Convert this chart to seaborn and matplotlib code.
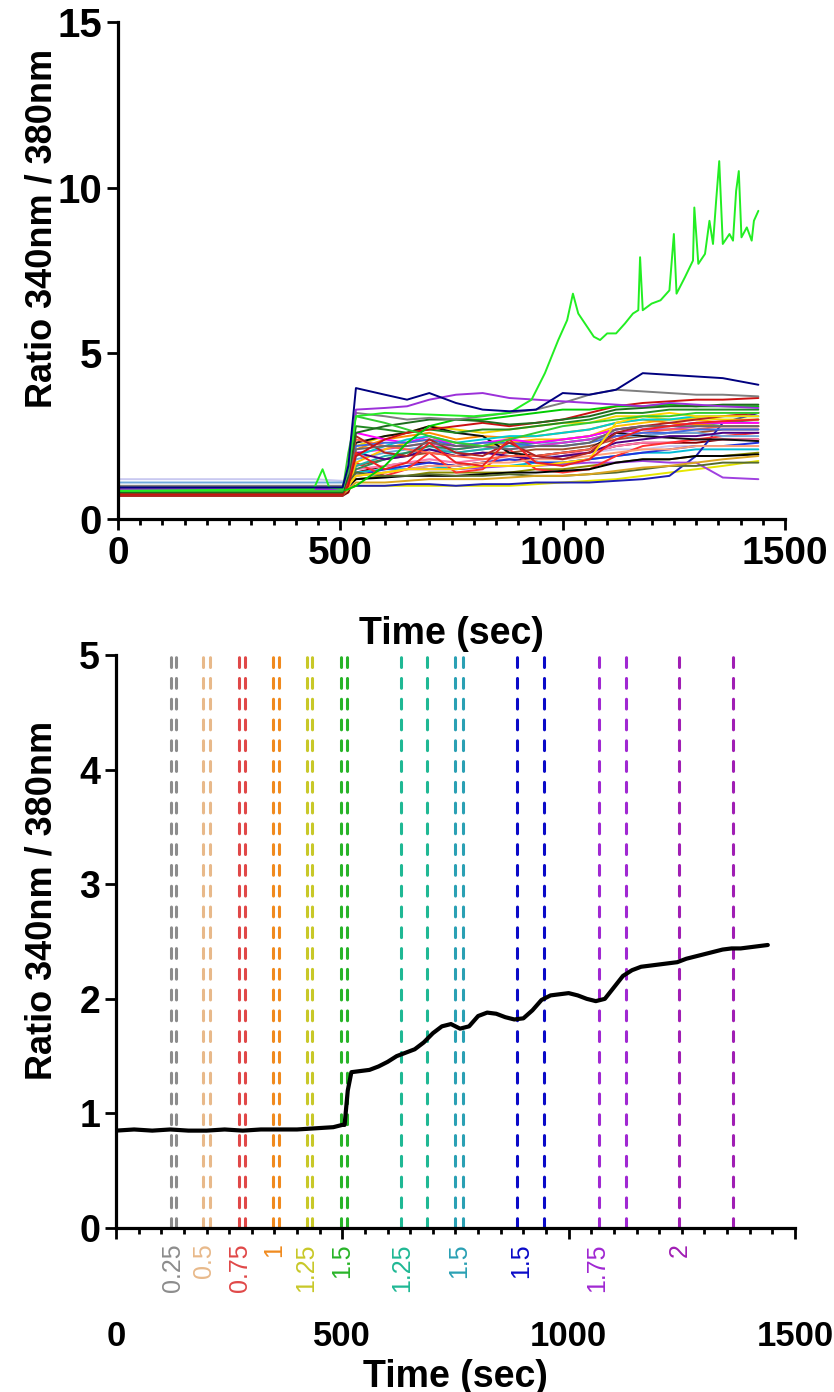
import numpy as np
import pandas as pd
import matplotlib
matplotlib.use('Agg')
import matplotlib.pyplot as plt
import seaborn as sns
from matplotlib.ticker import MultipleLocator
from matplotlib import transforms


# -- -- -- --   top panel: all cells   -- -- -- --

grid_time = [0, 440, 505, 518, 535, 600, 650, 700, 760, 820, 880, 940, 1000, 1060, 1120, 1180, 1240, 1300, 1360, 1440]

cell_colors = {
    'c01': '#8b0000', 'c02': '#c8c8f0', 'c03': '#a0522d', 'c04': '#ff77aa', 'c05': '#00bcd4',
    'c06': '#8b8b00', 'c07': '#e6e600', 'c08': '#1f1fb4', 'c09': '#a040e0', 'c10': '#2233dd',
    'c11': '#ff3030', 'c12': '#000000', 'c13': '#6fa8dc', 'c14': '#20b2aa', 'c15': '#d633d6',
    'c16': '#2e8b57', 'c17': '#ffc000', 'c18': '#ff8c00', 'c19': '#f2d600', 'c20': '#111111',
    'c29': '#ff00ff', 'c30': '#4b0082', 'c31': '#ff6347', 'c32': '#00ced1', 'c33': '#556b2f',
    'c34': '#ffa07a', 'c35': '#daa520', 'c36': '#4169e1', 'c37': '#b22222', 'c38': '#228b22',
    'c39': '#696969', 'c40': '#ffd700',
    'c21': '#ee2222', 'c22': '#cc1111', 'c23': '#00cc00', 'c24': '#1e6b1e', 'c25': '#33cc33',
    'c26': '#7f7f7f', 'c27': '#9b30d9', 'c28': '#00007f',
}

cell_values = {
    'c01': [0.70, 0.70, 0.70, 0.80, 1.40, 1.60, 1.70, 1.70, 1.60, 1.70, 1.80, 1.80, 1.90, 2.00, 2.20, 2.30, 2.30, 2.30, 2.40, 2.40],
    'c02': [1.20, 1.20, 1.15, 1.20, 1.50, 1.60, 1.70, 1.80, 1.70, 1.80, 1.80, 1.90, 1.90, 2.00, 2.10, 2.10, 2.20, 2.20, 2.20, 2.20],
    'c03': [0.70, 0.70, 0.70, 0.90, 1.60, 1.80, 1.90, 2.00, 1.90, 2.00, 2.00, 2.10, 2.10, 2.20, 2.40, 2.50, 2.60, 2.60, 2.70, 2.70],
    'c04': [0.85, 0.85, 0.85, 1.00, 1.50, 1.60, 1.70, 1.80, 1.70, 1.80, 1.90, 1.90, 2.00, 2.00, 2.20, 2.30, 2.30, 2.40, 2.40, 2.40],
    'c05': [0.90, 0.90, 0.90, 1.00, 1.40, 1.50, 1.50, 1.60, 1.50, 1.60, 1.60, 1.70, 1.70, 1.80, 1.90, 2.00, 2.00, 2.10, 2.10, 2.10],
    'c06': [0.80, 0.80, 0.80, 0.95, 1.20, 1.30, 1.30, 1.40, 1.40, 1.40, 1.40, 1.50, 1.50, 1.60, 1.70, 1.80, 1.80, 1.90, 1.90, 2.00],
    'c07': [0.80, 0.80, 0.80, 0.90, 1.00, 1.00, 1.00, 1.00, 1.00, 1.00, 1.00, 1.05, 1.10, 1.15, 1.20, 1.30, 1.40, 1.50, 1.60, 1.75],
    'c08': [0.90, 0.90, 0.90, 0.95, 1.00, 1.00, 1.05, 1.05, 1.00, 1.05, 1.05, 1.10, 1.10, 1.10, 1.15, 1.20, 1.30, 1.90, 2.90, 3.20],
    'c09': [0.95, 0.95, 0.95, 1.00, 1.30, 1.40, 1.50, 1.50, 1.50, 1.55, 1.60, 1.60, 1.65, 1.70, 1.70, 1.75, 1.70, 1.70, 1.25, 1.20],
    'c10': [0.80, 0.80, 0.80, 0.90, 1.30, 1.50, 1.60, 1.70, 1.60, 1.70, 1.80, 1.70, 1.70, 1.80, 1.90, 2.00, 2.10, 2.20, 2.20, 2.30],
    'c11': [0.80, 0.80, 0.80, 1.00, 1.70, 1.30, 1.50, 2.00, 1.40, 1.50, 2.10, 1.50, 1.40, 1.50, 1.90, 2.20, 2.30, 2.40, 2.50, 2.60],
    'c12': [0.90, 0.90, 0.90, 1.00, 1.20, 1.25, 1.30, 1.30, 1.30, 1.35, 1.40, 1.40, 1.45, 1.50, 1.70, 1.80, 1.80, 1.90, 1.90, 1.95],
    'c13': [1.10, 1.10, 1.10, 1.20, 1.80, 2.00, 2.10, 2.20, 2.00, 2.10, 2.20, 2.30, 2.30, 2.40, 2.50, 2.50, 2.60, 2.60, 2.50, 2.50],
    'c14': [0.85, 0.85, 0.85, 1.00, 1.60, 1.90, 2.00, 2.10, 2.00, 2.10, 2.20, 2.20, 2.30, 2.40, 2.60, 2.70, 2.70, 2.80, 2.90, 2.90],
    'c15': [0.90, 0.90, 0.90, 1.20, 2.00, 2.10, 2.20, 2.30, 2.10, 2.20, 2.10, 2.20, 2.30, 2.40, 2.60, 2.70, 2.70, 2.80, 2.80, 2.80],
    'c16': [0.80, 0.80, 0.80, 1.00, 1.50, 1.80, 2.00, 2.20, 2.10, 2.20, 2.30, 2.30, 2.40, 2.50, 2.70, 2.80, 2.80, 2.90, 2.90, 3.00],
    'c17': [0.80, 0.80, 0.80, 0.90, 1.70, 2.10, 2.30, 2.40, 2.30, 2.20, 2.30, 2.40, 2.40, 2.50, 2.80, 2.90, 3.00, 3.00, 2.90, 2.90],
    'c18': [0.85, 0.85, 0.85, 1.10, 2.10, 2.40, 2.50, 2.60, 2.40, 2.50, 2.45, 2.50, 2.60, 2.70, 2.90, 3.00, 2.90, 2.85, 2.80, 2.80],
    'c19': [0.90, 0.90, 0.90, 1.10, 2.20, 2.50, 2.60, 2.80, 2.70, 2.60, 2.70, 2.80, 2.90, 2.90, 3.10, 3.10, 3.00, 3.05, 3.00, 3.00],
    'c20': [0.95, 0.95, 0.95, 1.20, 2.30, 2.50, 2.60, 2.80, 2.60, 2.50, 2.00, 1.90, 2.00, 2.10, 2.60, 2.50, 2.45, 2.40, 2.40, 2.35],
    'c29': [0.80, 0.80, 0.80, 1.60, 2.60, 2.40, 2.30, 2.50, 2.20, 2.30, 2.40, 2.30, 2.40, 2.50, 2.70, 2.80, 2.80, 2.90, 2.90, 2.90],
    'c30': [0.90, 0.90, 0.90, 1.30, 2.00, 1.80, 1.90, 2.10, 1.90, 2.00, 1.90, 1.80, 1.90, 2.00, 2.30, 2.40, 2.50, 2.50, 2.60, 2.60],
    'c31': [0.75, 0.75, 0.75, 1.50, 2.40, 2.20, 2.10, 2.00, 1.90, 1.80, 1.90, 1.90, 2.00, 2.10, 2.50, 2.60, 2.70, 2.70, 2.80, 2.80],
    'c32': [0.85, 0.85, 0.85, 1.20, 1.90, 2.20, 2.40, 2.50, 2.30, 2.40, 2.50, 2.50, 2.60, 2.70, 2.90, 3.00, 3.00, 3.10, 3.10, 3.10],
    'c33': [0.80, 0.80, 0.80, 1.10, 1.40, 1.30, 1.30, 1.35, 1.30, 1.30, 1.35, 1.30, 1.30, 1.35, 1.40, 1.50, 1.60, 1.60, 1.70, 1.70],
    'c34': [0.80, 0.80, 0.80, 1.00, 1.30, 1.40, 1.50, 1.60, 1.60, 1.70, 1.70, 1.80, 1.80, 1.90, 2.00, 2.10, 2.10, 2.20, 2.20, 2.20],
    'c35': [0.75, 0.75, 0.75, 0.90, 1.10, 1.10, 1.15, 1.20, 1.20, 1.20, 1.25, 1.30, 1.30, 1.35, 1.45, 1.55, 1.60, 1.70, 1.80, 1.90],
    'c36': [0.85, 0.85, 0.85, 1.30, 2.20, 2.30, 2.30, 2.40, 2.20, 2.30, 2.30, 2.20, 2.20, 2.30, 2.50, 2.60, 2.60, 2.70, 2.70, 2.70],
    'c37': [0.70, 0.70, 0.70, 1.20, 2.50, 2.00, 1.90, 2.40, 2.00, 1.90, 2.30, 1.90, 1.80, 2.00, 2.60, 2.80, 2.90, 3.00, 3.10, 3.20],
    'c38': [0.90, 0.90, 0.90, 1.40, 2.80, 2.70, 2.60, 2.70, 2.60, 2.70, 2.70, 2.80, 2.90, 3.00, 3.20, 3.20, 3.30, 3.30, 3.30, 3.30],
    'c39': [0.95, 0.95, 0.95, 1.20, 2.10, 2.20, 2.20, 2.30, 2.20, 2.20, 2.10, 2.20, 2.20, 2.30, 2.70, 2.80, 2.80, 2.80, 2.80, 2.80],
    'c40': [0.80, 0.80, 0.80, 1.00, 1.30, 1.40, 1.50, 1.50, 1.50, 1.60, 1.60, 1.60, 1.70, 1.80, 2.90, 3.10, 3.20, 3.10, 3.10, 3.10],
    'c21': [0.80, 0.80, 0.80, 1.10, 2.00, 1.50, 1.70, 2.30, 1.70, 1.60, 2.40, 1.70, 1.60, 1.80, 2.40, 2.70, 2.80, 2.90, 2.95, 3.00],
    'c22': [0.75, 0.75, 0.75, 1.00, 1.90, 2.40, 2.60, 2.70, 2.80, 2.90, 2.80, 2.90, 3.00, 3.20, 3.40, 3.50, 3.55, 3.60, 3.60, 3.65],
    'c23': [0.85, 0.85, 0.85, 0.90, 1.00, 1.60, 2.30, 2.80, 3.00, 3.00, 3.10, 3.20, 3.30, 3.30, 3.40, 3.40, 3.45, 3.40, 3.40, 3.40],
    'c24': [0.80, 0.80, 0.80, 1.30, 2.60, 2.80, 2.90, 3.00, 3.00, 2.95, 2.85, 2.90, 3.00, 3.10, 3.30, 3.35, 3.40, 3.40, 3.45, 3.45],
    'c25': [0.85, 0.85, 0.85, 2.00, 3.10, 2.90, 2.70, 2.50, 2.30, 2.20, 2.40, 2.60, 2.80, 2.90, 3.00, 3.10, 3.10, 3.20, 3.20, 3.20],
    'c26': [1.00, 1.00, 1.00, 1.40, 3.20, 3.10, 3.00, 3.05, 3.00, 3.10, 3.20, 3.30, 3.50, 3.75, 3.90, 3.85, 3.80, 3.75, 3.75, 3.70],
    'c27': [0.90, 0.90, 0.90, 1.50, 3.30, 3.35, 3.40, 3.60, 3.75, 3.80, 3.65, 3.60, 3.55, 3.50, 3.45, 3.40, 3.50, 3.45, 3.40, 3.35],
    'c28': [0.95, 0.95, 0.95, 1.60, 3.95, 3.75, 3.60, 3.80, 3.50, 3.30, 3.25, 3.30, 3.80, 3.75, 3.90, 4.40, 4.35, 4.30, 4.25, 4.05],
}

# the one cell that keeps climbing (bright green, spiky)
spiky_time = [0, 440, 460, 475, 505, 518, 535, 600, 700, 800, 880, 930, 960, 990, 1010, 1023, 1035, 1050, 1070, 1084,
              1100, 1120, 1140, 1158, 1170, 1174, 1180, 1200, 1220, 1240, 1250, 1256, 1275, 1293, 1296, 1305, 1320,
              1330, 1338, 1345, 1352, 1360, 1375, 1383, 1390, 1396, 1402, 1414, 1425, 1430, 1440]
spiky_ratio = [0.85, 0.90, 1.50, 0.95, 0.90, 1.50, 3.10, 3.20, 3.15, 3.10, 3.20, 3.60, 4.40, 5.40, 6.00, 6.80, 6.20, 5.90, 5.50, 5.40,
               5.60, 5.60, 5.90, 6.20, 6.30, 7.90, 6.30, 6.50, 6.60, 6.90, 8.60, 6.80, 7.30, 7.80, 9.40, 7.70, 8.00,
               9.00, 8.30, 9.60, 10.80, 8.30, 8.60, 8.40, 9.90, 10.50, 8.50, 8.80, 8.40, 9.00, 9.30]

# -- -- -- --   bottom panel: one cell + dose marks   -- -- -- --

single_time = [0, 40, 80, 120, 160, 200, 240, 280, 320, 360, 400, 440, 480,
               500, 505, 512, 520,
               540, 560, 580, 600, 620, 640, 660, 680, 700, 720, 740, 760, 780, 800, 820, 840, 860, 880, 900, 920,
               940, 960, 980, 1000, 1020, 1040, 1060, 1080, 1100, 1120, 1140, 1160, 1180, 1200, 1220, 1240, 1260,
               1280, 1300, 1320, 1340, 1360, 1380, 1400, 1420, 1440]
single_ratio = [0.85, 0.86, 0.85, 0.86, 0.85, 0.85, 0.86, 0.85, 0.86, 0.86, 0.86, 0.87, 0.88,
                0.90, 0.90, 1.20, 1.36,
                1.37, 1.38, 1.41, 1.45, 1.50, 1.53, 1.56, 1.62, 1.70, 1.76, 1.78, 1.74, 1.76, 1.85, 1.88, 1.87, 1.84, 1.82, 1.83, 1.90,
                1.99, 2.03, 2.04, 2.05, 2.03, 2.00, 1.98, 2.00, 2.10, 2.20, 2.25, 2.28, 2.29, 2.30, 2.31, 2.32, 2.35,
                2.37, 2.39, 2.41, 2.43, 2.44, 2.44, 2.45, 2.46, 2.47]

dose_times = [121, 132, 192, 207, 271, 286, 346, 361, 421, 434, 496, 511, 630, 687, 749, 767, 885, 945, 1066, 1126, 1244, 1363]
dose_colors = ['#8c8c8c', '#8c8c8c', '#e8b98a', '#e8b98a', '#e04848', '#e04848', '#f08a1e', '#f08a1e',
               '#c8c828', '#c8c828', '#28b428', '#28b428', '#1fb894', '#1fb894', '#2aa0b4', '#2aa0b4',
               '#0a0ac8', '#0a0ac8', '#a028d2', '#a028d2', '#a01eb4', '#a01eb4']

label_times = [125, 195, 275, 350, 420, 500, 632, 758, 895, 1062, 1245]
label_text = ['0.25', '0.5', '0.75', '1', '1.25', '1.5', '1.25', '1.5', '1.5', '1.75', '2']
label_colors = ['#8c8c8c', '#e8b98a', '#e04848', '#f08a1e', '#c8c828', '#28b428', '#1fb894', '#2aa0b4',
                '#0a0ac8', '#a028d2', '#a01eb4']


# -- -- -- --   build frames   -- -- -- --

rows = []
for name, vals in cell_values.items():
    assert len(vals) == len(grid_time)
    for t, v in zip(grid_time, vals):
        rows.append((name, t, v))
assert len(spiky_time) == len(spiky_ratio)
for t, v in zip(spiky_time, spiky_ratio):
    rows.append(('spiky', t, v))
cells_df = pd.DataFrame(rows, columns=['cell', 'time', 'ratio'])

assert len(single_time) == len(single_ratio)
single_df = pd.DataFrame({'time': single_time, 'ratio': single_ratio})

palette = dict(cell_colors)
palette['spiky'] = '#22ee22'
hue_order = list(cell_colors.keys())[:-1] + ['spiky', 'c28']


# -- -- -- --   style   -- -- -- --

sns.set_style('ticks')
plt.rcParams['font.family'] = ['Liberation Sans', 'DejaVu Sans']
for key in ['text.color', 'axes.labelcolor', 'xtick.color', 'ytick.color', 'axes.edgecolor']:
    plt.rcParams[key] = 'black'

fig = plt.figure(figsize=(8.34, 13.92), dpi=100)
ax1 = fig.add_axes([0.1415, 0.6272, 0.7998, 0.3570])
ax2 = fig.add_axes([0.1391, 0.1178, 0.8141, 0.4116])


def style_axes(ax):
    sns.despine(ax=ax)
    for side in ['left', 'bottom']:
        ax.spines[side].set_linewidth(2.3)
        ax.spines[side].set_color('black')
    ax.tick_params(axis='both', which='major', direction='out', length=8, width=2, color='black')
    ax.tick_params(axis='x', which='minor', direction='out', length=4.5, width=2, color='black')
    ax.xaxis.set_major_locator(MultipleLocator(500))
    ax.xaxis.set_minor_locator(MultipleLocator(50))
    ax.set_xlim(0, 1500)


# top panel
sns.lineplot(data=cells_df, x='time', y='ratio', hue='cell', hue_order=hue_order, palette=palette,
             estimator=None, linewidth=1.4, legend=False, ax=ax1)
style_axes(ax1)
ax1.set_ylim(0, 15)
ax1.set_yticks([0, 5, 10, 15])
ax1.set_yticklabels(['0', '5', '10', '15'], fontsize=29, fontweight='bold')
ax1.set_xticks([0, 500, 1000, 1500])
ax1.set_xticklabels(['0', '500', '1000', '1500'], fontsize=28, fontweight='bold')
ax1.tick_params(axis='x', which='major', pad=4)
ax1.set_xlabel('Time (sec)', fontsize=27, fontweight='bold')
ax1.xaxis.set_label_coords(0.5, -0.195)
ax1.set_ylabel('Ratio 340nm / 380nm', fontsize=26, fontweight='bold')
ax1.yaxis.set_label_coords(-0.088, 0.585)

# bottom panel
for t, c in zip(dose_times, dose_colors):
    ax2.axvline(t, color=c, linewidth=2.2, linestyle=(0, (3.2, 3.6)), dash_capstyle='round', zorder=1)
sns.lineplot(data=single_df, x='time', y='ratio', color='black', linewidth=3, estimator=None, ax=ax2, zorder=3)
style_axes(ax2)
ax2.set_ylim(0, 5)
ax2.set_yticks([0, 1, 2, 3, 4, 5])
ax2.set_yticklabels(['0', '1', '2', '3', '4', '5'], fontsize=27, fontweight='bold')
ax2.set_xticks([0, 500, 1000, 1500])
ax2.set_xticklabels(['0', '500', '1000', '1500'], fontsize=25, fontweight='bold')
ax2.tick_params(axis='x', which='major', pad=58)
ax2.set_xlabel('Time (sec)', fontsize=27, fontweight='bold')
ax2.xaxis.set_label_coords(0.5, -0.228)
ax2.set_ylabel('Ratio 340nm / 380nm', fontsize=26, fontweight='bold')
ax2.yaxis.set_label_coords(-0.083, 0.572)

trans = transforms.blended_transform_factory(ax2.transData, ax2.transAxes)
for t, s, c in zip(label_times, label_text, label_colors):
    ax2.text(t, -0.027, s, transform=trans, rotation=90, ha='center', va='top',
             color=c, fontsize=18)

fig.savefig('out.png', dpi=100)
